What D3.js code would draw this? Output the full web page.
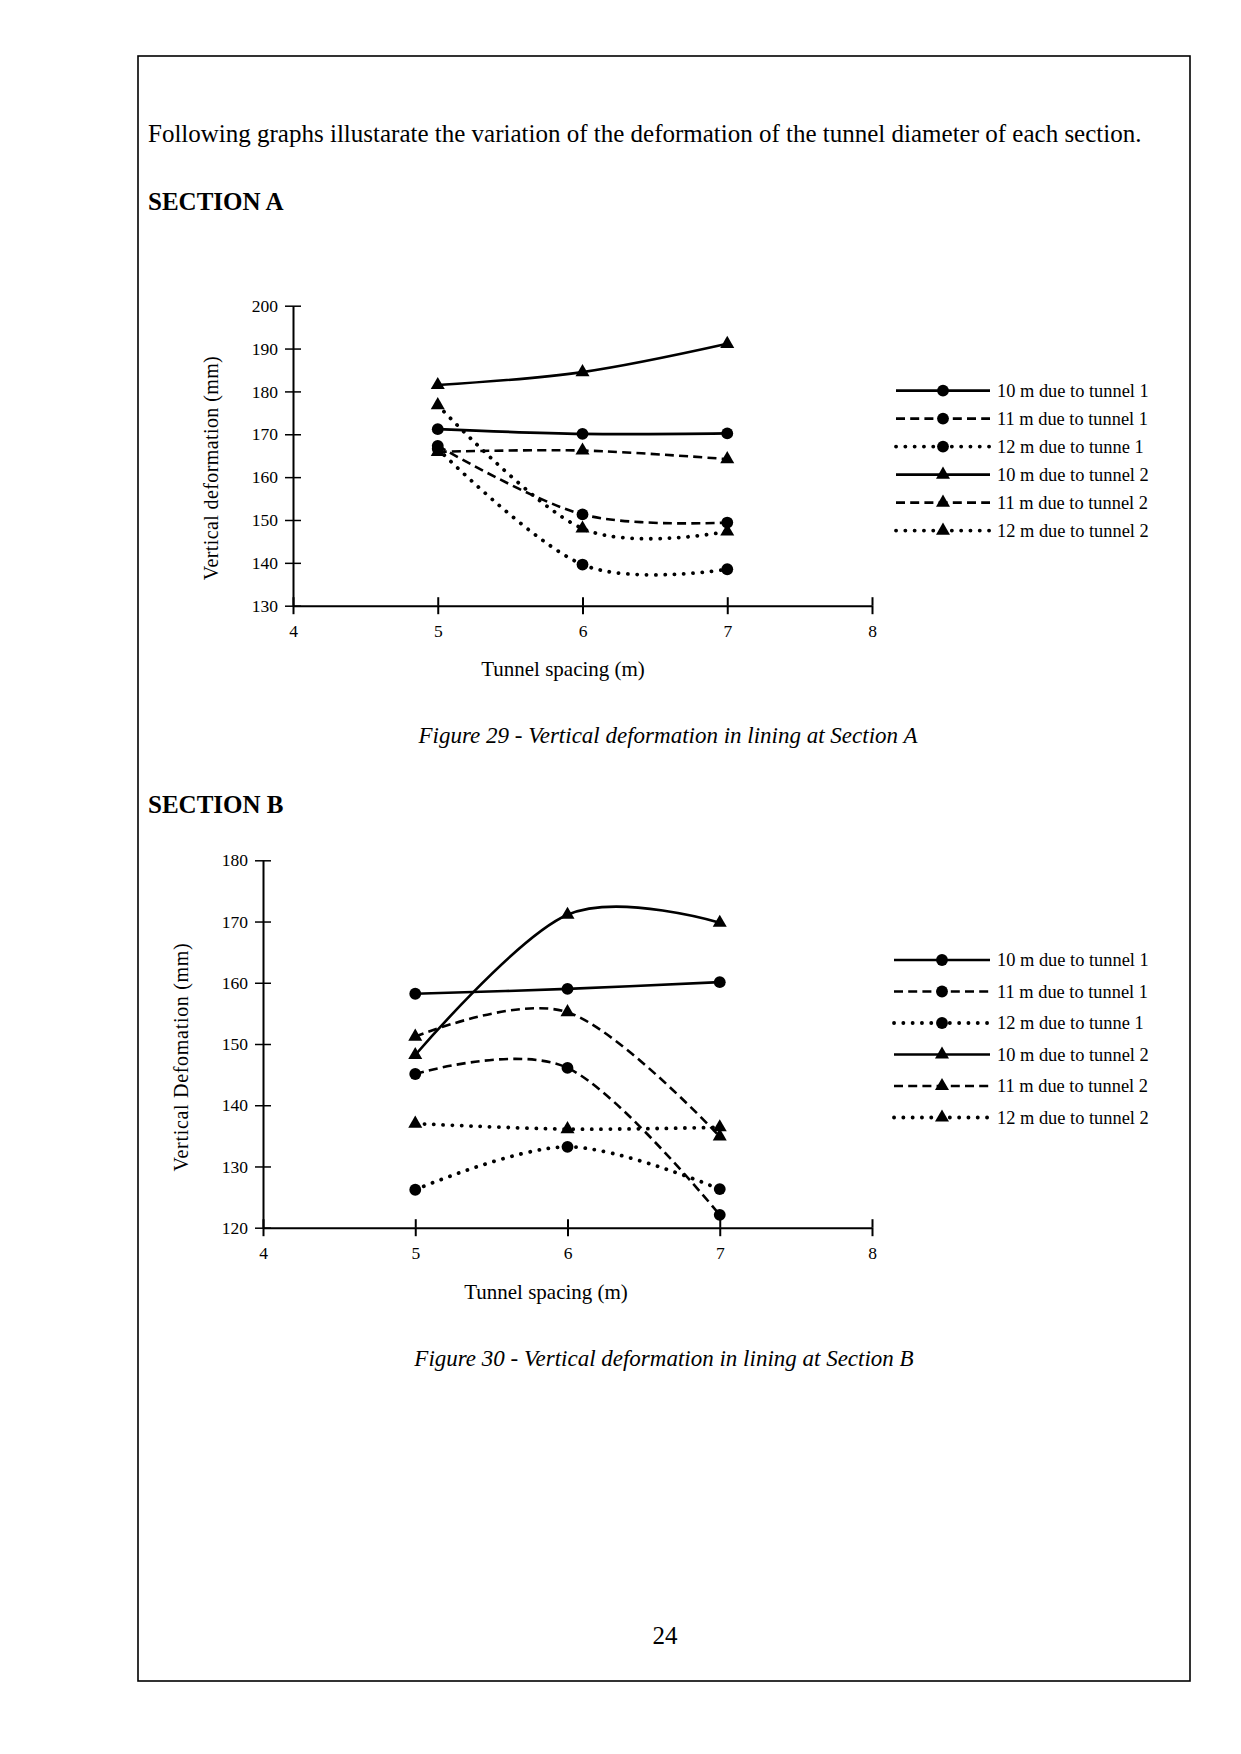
<!DOCTYPE html>
<html>
<head>
<meta charset="utf-8">
<script src="https://cdn.jsdelivr.net/npm/d3@7"></script>
<style>
  html, body { margin: 0; padding: 0; background: #fff; }
  svg text { font-family: "Liberation Serif", "Times New Roman", serif; fill: #000; }
  svg .tick text { font-family: "Liberation Serif", "Times New Roman", serif !important; font-size: 17.5px !important; }
</style>
</head>
<body>
<svg id="page" width="1241" height="1754"></svg>
<script>
// ---------- data ----------
const spacing = [5, 6, 7];
const xTicks = [4, 5, 6, 7, 8];
const seriesNames = ["10 m due to tunnel 1", "11 m due to tunnel 1", "12 m due to tunne 1",
                     "10 m due to tunnel 2", "11 m due to tunnel 2", "12 m due to tunnel 2"];
const seriesDepth = ["10", "11", "12", "10", "11", "12"];
const seriesTunnel = [1, 1, 1, 2, 2, 2];

// Section A (Figure 29)
const sectionA_10m_t1 = [171.2, 170.1, 170.2];
const sectionA_11m_t1 = [167.3, 151.3, 149.4];
const sectionA_12m_t1 = [166.6, 139.6, 138.5];
const sectionA_10m_t2 = [181.5, 184.5, 191.1];
const sectionA_11m_t2 = [165.9, 166.2, 164.2];
const sectionA_12m_t2 = [176.8, 148.0, 147.3];
const yTicksA = [130, 140, 150, 160, 170, 180, 190, 200];

// Section B (Figure 30)
const sectionB_10m_t1 = [158.2, 159.0, 160.1];
const sectionB_11m_t1 = [145.1, 146.1, 122.1];
const sectionB_12m_t1 = [126.2, 133.2, 126.3];
const sectionB_10m_t2 = [148.2, 171.1, 169.8];
const sectionB_11m_t2 = [151.2, 155.2, 134.9];
const sectionB_12m_t2 = [137.0, 136.1, 136.4];
const yTicksB = [120, 130, 140, 150, 160, 170, 180];

// ---------- styles ----------
const FONT = "'Liberation Serif', 'Times New Roman', serif";
const dashFor = { "10": null, "11": "9 5.2", "12": "0.1 9.2" };
const isDot = d => d && d.startsWith("0.1");

const svg = d3.select("#page");

// page frame
svg.append("rect").attr("x", 138).attr("y", 56).attr("width", 1052).attr("height", 1625)
  .attr("fill", "none").attr("stroke", "#000").attr("stroke-width", 1.6);

// texts
svg.append("text").attr("x", 148).attr("y", 142).style("font-size", "25px")
  .text("Following graphs illustarate the variation of the deformation of the tunnel diameter of each section.");
svg.append("text").attr("x", 148).attr("y", 210).style("font-size", "25px").style("font-weight", "bold")
  .text("SECTION A");
svg.append("text").attr("x", 668).attr("y", 743).style("font-size", "23px").style("font-style", "italic")
  .attr("text-anchor", "middle").text("Figure 29 - Vertical deformation in lining at Section A");
svg.append("text").attr("x", 148).attr("y", 813).style("font-size", "25px").style("font-weight", "bold")
  .text("SECTION B");
svg.append("text").attr("x", 664).attr("y", 1366).style("font-size", "23px").style("font-style", "italic")
  .attr("text-anchor", "middle").text("Figure 30 - Vertical deformation in lining at Section B");
svg.append("text").attr("x", 665).attr("y", 1644).style("font-size", "25px")
  .attr("text-anchor", "middle").text("24");

function styleTickText(sel) {
  sel.selectAll(".tick text")
    .attr("font-family", FONT).attr("font-size", 17.5)
    .style("font-family", FONT).style("font-size", "17.5px").attr("fill", "#000");
}

function drawChart(cfg) {
  const x = d3.scaleLinear().domain([4, 8]).range([cfg.x0, cfg.x1]);
  const y = d3.scaleLinear().domain(cfg.yDomain).range([cfg.yBottom, cfg.yTop]);
  const g = svg.append("g");

  // y axis (ticks crossing)
  const ya = g.append("g").attr("transform", `translate(${cfg.x0},0)`)
    .call(d3.axisLeft(y).tickValues(cfg.yTicks).tickFormat(d3.format("d"))
      .tickSize(8).tickSizeOuter(0).tickPadding(7));
  ya.attr("font-family", FONT).attr("font-size", 17.5);
  ya.select(".domain").attr("stroke-width", 2);
  ya.selectAll(".tick line").attr("stroke-width", 1.5);
  ya.selectAll(".tick").append("line").attr("x1", 0).attr("x2", 8).attr("stroke", "#000").attr("stroke-width", 1.5);
  styleTickText(ya);

  // x axis (ticks crossing)
  const xa = g.append("g").attr("transform", `translate(0,${cfg.yBottom})`)
    .call(d3.axisBottom(x).tickValues(xTicks).tickFormat(d3.format("d"))
      .tickSize(8.5).tickSizeOuter(0).tickPadding(10));
  xa.attr("font-family", FONT).attr("font-size", 17.5);
  xa.select(".domain").attr("stroke-width", 2);
  xa.selectAll(".tick line").attr("stroke-width", 2);
  xa.selectAll(".tick").append("line").attr("y1", 0).attr("y2", -8.5).attr("stroke", "#000").attr("stroke-width", 2);
  styleTickText(xa);

  // titles
  g.append("text").attr("x", cfg.xTitle[0]).attr("y", cfg.xTitle[1]).style("font-size", "21px")
    .attr("text-anchor", "middle").text("Tunnel spacing (m)");
  g.append("text").attr("transform", `translate(${cfg.yTitle[0]},${cfg.yTitle[1]}) rotate(-90)`)
    .style("font-size", "20px").style("letter-spacing", cfg.yTitleSpacing + "px")
    .attr("text-anchor", "middle").text(cfg.yTitleText);

  const line = d3.line().x((d, i) => x(spacing[i])).y(d => y(d)).curve(d3.curveCardinal.tension(0));

  const circleSym = d3.symbol().type(d3.symbolCircle).size(110);
  const triSym = d3.symbol().type(d3.symbolTriangle).size(85);

  cfg.series.forEach((vals, k) => {
    const dash = dashFor[seriesDepth[k]];
    g.append("path").datum(vals).attr("d", line).attr("fill", "none").attr("stroke", "#000")
      .attr("stroke-width", isDot(dash) ? 3.8 : 2.6)
      .attr("stroke-linecap", isDot(dash) ? "round" : "butt")
      .attr("stroke-dasharray", dash);
  });
  cfg.series.forEach((vals, k) => {
    const sym = seriesTunnel[k] === 1 ? circleSym : triSym;
    g.selectAll(null).data(vals).enter().append("path")
      .attr("transform", (d, i) => `translate(${x(spacing[i])},${y(d)})`)
      .attr("d", sym).attr("fill", "#000");
  });

  // legend
  const lg = g.append("g");
  seriesNames.forEach((name, k) => {
    const ry = cfg.legY0 + k * cfg.legDy;
    const dash = dashFor[seriesDepth[k]];
    lg.append("line").attr("x1", cfg.legX0).attr("x2", cfg.legX1).attr("y1", ry).attr("y2", ry)
      .attr("stroke", "#000")
      .attr("stroke-width", isDot(dash) ? 3.8 : 2.6)
      .attr("stroke-linecap", isDot(dash) ? "round" : "butt")
      .attr("stroke-dasharray", dash);
    const sym = seriesTunnel[k] === 1 ? circleSym : triSym;
    lg.append("path").attr("transform", `translate(${(cfg.legX0 + cfg.legX1) / 2},${ry})`)
      .attr("d", sym).attr("fill", "#000");
    lg.append("text").attr("x", cfg.legX1 + 7).attr("y", ry + 6).style("font-size", "18.4px").text(name);
  });
}

drawChart({
  x0: 293, x1: 872, yTop: 305.7, yBottom: 605.7, yDomain: [130, 200], yTicks: yTicksA,
  xTitle: [563, 676], yTitle: [218, 468], yTitleText: "Vertical deformation (mm)", yTitleSpacing: 0.4,
  series: [sectionA_10m_t1, sectionA_11m_t1, sectionA_12m_t1, sectionA_10m_t2, sectionA_11m_t2, sectionA_12m_t2],
  legX0: 896, legX1: 990, legY0: 390.6, legDy: 28
});

drawChart({
  x0: 263, x1: 872, yTop: 860.3, yBottom: 1227.7, yDomain: [120, 180], yTicks: yTicksB,
  xTitle: [546, 1299], yTitle: [188, 1057], yTitleText: "Vertical Defomation (mm)", yTitleSpacing: 0.7,
  series: [sectionB_10m_t1, sectionB_11m_t1, sectionB_12m_t1, sectionB_10m_t2, sectionB_11m_t2, sectionB_12m_t2],
  legX0: 894, legX1: 990, legY0: 960, legDy: 31.5
});
</script>
</body>
</html>
